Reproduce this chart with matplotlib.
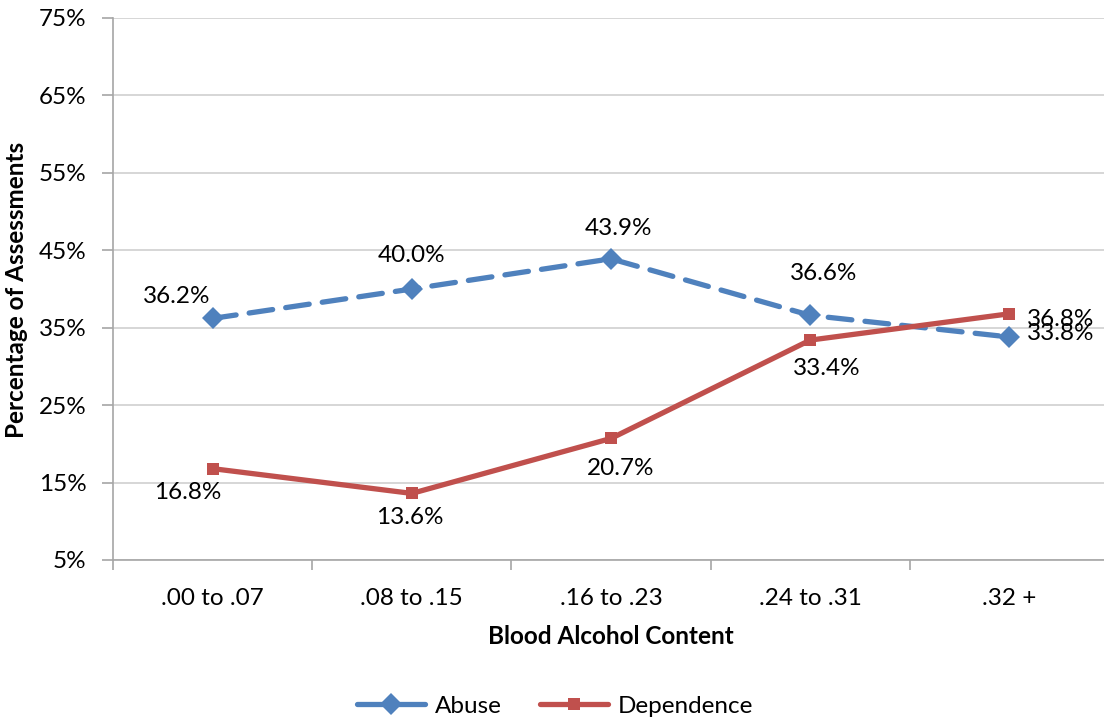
import matplotlib
matplotlib.use("Agg")
import matplotlib.pyplot as plt
from matplotlib.lines import Line2D

plt.rcParams['font.family'] = ['Lato', 'DejaVu Sans']

categories = [".00 to .07", ".08 to .15", ".16 to .23", ".24 to .31", ".32 +"]
abuse = [36.2, 40.0, 43.9, 36.6, 33.8]
dependence = [16.8, 13.6, 20.7, 33.4, 36.8]
y_ticks = [5, 15, 25, 35, 45, 55, 65, 75]

blue = "#4F81BD"
red = "#C0504D"
axis_grey = "#A6A6A6"
grid_grey = "#D0D0D0"

fig = plt.figure(figsize=(11.04, 7.21), dpi=100)
ax = fig.add_axes([113 / 1104, 1 - 560 / 721, 996 / 1104, 542 / 721])

x = list(range(len(categories)))

ax.plot(x, abuse, color=blue, lw=3.8, dashes=(4.5, 2.5), dash_capstyle='round',
        marker='D', markersize=11, markeredgewidth=0, zorder=3, label="Abuse")
ax.plot(x, dependence, color=red, lw=3.8, solid_capstyle='round',
        marker='s', markersize=9, markeredgewidth=0, zorder=4, label="Dependence")

ax.set_xlim(-0.5, len(categories) - 0.5)
ax.set_ylim(5, 75)
ax.set_yticks(y_ticks)
ax.set_yticklabels([f"{v}%" for v in y_ticks])
ax.set_xticks(x)
ax.set_xticklabels(categories)
ax.set_xticks([i + 0.5 for i in range(-1, len(categories))], minor=True)

ax.grid(axis='y', color=grid_grey, lw=1.2, zorder=0)
ax.set_axisbelow(True)
for s in ('top', 'right'):
    ax.spines[s].set_visible(False)
for s in ('left', 'bottom'):
    ax.spines[s].set_color(axis_grey)
    ax.spines[s].set_linewidth(1.2)

fs = 17.5
ax.tick_params(axis='y', length=8, width=1.2, color=axis_grey, labelsize=fs, pad=11)
ax.tick_params(axis='x', which='major', length=0, labelsize=fs, pad=20)
ax.tick_params(axis='x', which='minor', length=7, width=1.2, color=axis_grey)

ax.set_xlabel("Blood Alcohol Content", fontsize=17.5, fontweight='bold', labelpad=12)
fig.text(17 / 1104, 1 - 290 / 721, "Percentage of Assessments", rotation=90,
         ha='center', va='center', fontsize=17.5, fontweight='bold')

# value labels (pixel offsets from each point)
abuse_off = [(-36, 22), (0, 34), (7, 30), (13, 42), (51, 4)]
dep_off = [(-25, -24), (-2, -24), (10, -30), (17, -28), (51, -6)]
for i, (v, off) in enumerate(zip(abuse, abuse_off)):
    ax.annotate(f"{v:.1f}%", (i, v), xytext=off, textcoords='offset pixels',
                ha='center', va='center', fontsize=fs)
for i, (v, off) in enumerate(zip(dependence, dep_off)):
    ax.annotate(f"{v:.1f}%", (i, v), xytext=off, textcoords='offset pixels',
                ha='center', va='center', fontsize=fs)

handles = [
    Line2D([0], [0], color=blue, lw=3.8, solid_capstyle='round', marker='D',
           markersize=11, markeredgewidth=0),
    Line2D([0], [0], color=red, lw=3.8, solid_capstyle='round', marker='s',
           markersize=9, markeredgewidth=0),
]
fig.legend(handles, ["Abuse", "Dependence"], loc='center', bbox_to_anchor=(555 / 1104, 1 - 706 / 721),
           ncol=2, frameon=False, fontsize=fs, handlelength=2.8, handletextpad=0.4,
           columnspacing=1.6)

fig.savefig("out.png", dpi=100)
